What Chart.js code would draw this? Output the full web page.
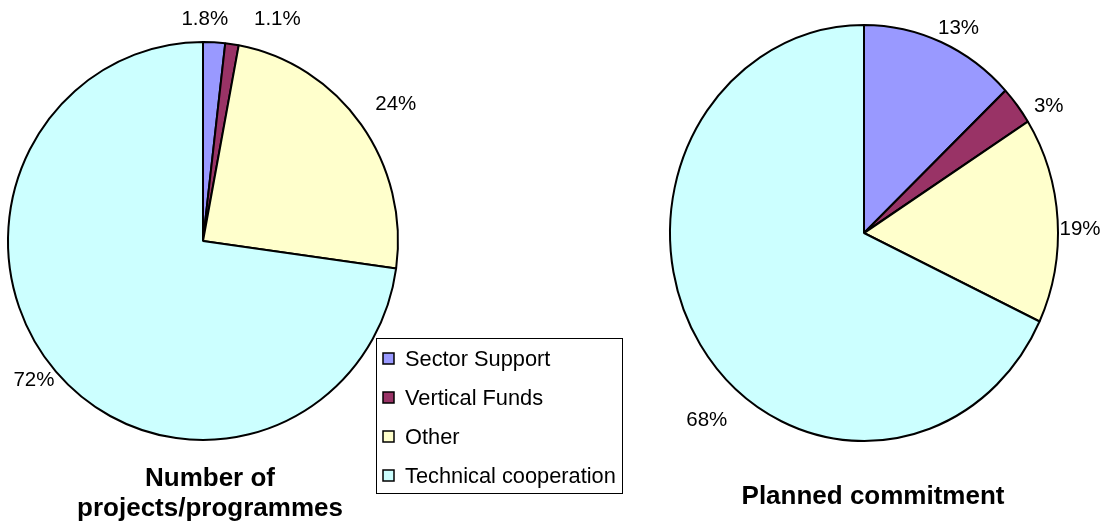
<!DOCTYPE html>
<html><head><meta charset="utf-8">
<script src="https://cdn.jsdelivr.net/npm/chart.js@4"></script>
<style>
html,body{margin:0;padding:0;background:#fff;}
#wrap{position:relative;width:1106px;height:522px;overflow:hidden;background:#fff;}
canvas{position:absolute;left:0;top:0;}
</style></head><body>
<div id="wrap"><canvas id="c1" width="1106" height="522"></canvas><canvas id="c2" width="1106" height="522"></canvas></div>
<script>
// ---- data ----
const categories = ['Sector Support', 'Vertical Funds', 'Other', 'Technical cooperation'];
const projectsValues = [1.8, 1.1, 24, 72];
const projectsLabels = ['1.8%', '1.1%', '24%', '72%'];
const commitmentValues = [13, 3, 16, 68];
const commitmentLabels = ['13%', '3%', '19%', '68%'];
const projectsTitle = ['Number of', 'projects/programmes'];
const commitmentTitle = ['Planned commitment'];
const sliceColors = ['#9999FF', '#993366', '#FFFFCC', '#CCFFFF'];

const FONT = '"Liberation Sans", Arial, Helvetica, sans-serif';

const ellipsePlugin = {
  id: 'ellipse',
  beforeDatasetsDraw(chart, args, opts) {
    const arc = chart.getDatasetMeta(0).data[0];
    const ctx = chart.ctx;
    ctx.save();
    ctx.translate(arc.x, arc.y);
    ctx.scale(1, opts.sy);
    ctx.translate(-arc.x, -arc.y);
  },
  afterDatasetsDraw(chart) { chart.ctx.restore(); }
};

const sliceLabelPlugin = {
  id: 'sliceLabels',
  afterDraw(chart, args, opts) {
    const ctx = chart.ctx;
    const meta = chart.getDatasetMeta(0);
    const sy = chart.options.plugins.ellipse.sy;
    ctx.save();
    ctx.font = '20.5px ' + FONT;
    ctx.fillStyle = '#000';
    ctx.textAlign = 'center';
    ctx.textBaseline = 'alphabetic';
    meta.data.forEach((arc, i) => {
      const mid = (arc.startAngle + arc.endAngle) / 2;
      const ux = Math.cos(mid), uy = Math.sin(mid);
      const rx = arc.outerRadius, ry = arc.outerRadius * sy;
      const t = opts.texts[i];
      const w = ctx.measureText(t).width, h = 15;
      const cx = arc.x + (rx + 6) * ux + (w / 2) * ux + opts.nudge[i][0];
      const cy = arc.y + (ry + 6) * uy + (h / 2) * uy + opts.nudge[i][1];
      ctx.fillText(t, cx, cy + 7.2);
    });
    ctx.restore();
  }
};

const titlePlugin = {
  id: 'bottomTitle',
  afterDraw(chart, args, opts) {
    const ctx = chart.ctx;
    ctx.save();
    ctx.font = 'bold 26px ' + FONT;
    ctx.fillStyle = '#000';
    ctx.textAlign = 'center';
    ctx.textBaseline = 'alphabetic';
    opts.lines.forEach((l, i) => ctx.fillText(l, opts.x, opts.baselines[i]));
    ctx.restore();
  }
};

const legendPlugin = {
  id: 'boxLegend',
  afterDraw(chart, args, opts) {
    const ctx = chart.ctx;
    const ds = chart.data.datasets[0];
    ctx.save();
    ctx.fillStyle = '#fff';
    ctx.fillRect(opts.x, opts.y, opts.w, opts.h);
    ctx.strokeStyle = '#000';
    ctx.lineWidth = 1;
    ctx.strokeRect(opts.x + 0.5, opts.y + 0.5, opts.w, opts.h);
    ctx.font = '21.8px ' + FONT;
    ctx.textBaseline = 'alphabetic';
    ctx.textAlign = 'left';
    chart.data.labels.forEach((lab, i) => {
      const cy = opts.firstRow + i * opts.rowGap;
      ctx.fillStyle = ds.backgroundColor[i];
      ctx.fillRect(opts.markerX, cy - 5.5, 11, 11);
      ctx.strokeStyle = '#000';
      ctx.lineWidth = 1.5;
      ctx.strokeRect(opts.markerX, cy - 5.5, 11, 11);
      ctx.fillStyle = '#000';
      ctx.fillText(lab, opts.textX, cy + 7.3);
    });
    ctx.restore();
  }
};

function pieConfig(values, padding, radius, sy, labelOpts, titleOpts, withLegend) {
  const plugins = [ellipsePlugin, sliceLabelPlugin, titlePlugin];
  if (withLegend) plugins.push(legendPlugin);
  return {
    type: 'pie',
    data: {
      labels: categories,
      datasets: [{
        data: values,
        backgroundColor: sliceColors,
        borderColor: '#000',
        borderWidth: 2,
        radius: radius,
        clip: false
      }]
    },
    options: {
      responsive: false,
      animation: false,
      events: [],
      layout: { padding: padding },
      plugins: {
        legend: { display: false },
        tooltip: { enabled: false },
        title: { display: false },
        ellipse: { sy: sy },
        sliceLabels: labelOpts,
        bottomTitle: titleOpts,
        boxLegend: withLegend ? { x: 376, y: 338, w: 246, h: 155, markerX: 383, textX: 405, firstRow: 358.5, rowGap: 39 } : {}
      }
    },
    plugins: plugins
  };
}

new Chart(document.getElementById('c1'), pieConfig(
  projectsValues,
  { left: 8, right: 708, top: 42, bottom: 82 },
  195, 199 / 195,
  { texts: projectsLabels, nudge: [[-11, -11], [41, -13], [13, -14], [-2, -2]] },
  { lines: projectsTitle, x: 210, baselines: [486, 516] },
  true
));

new Chart(document.getElementById('c2'), pieConfig(
  commitmentValues,
  { left: 670, right: 48, top: 25, bottom: 81 },
  194, 208 / 194,
  { texts: commitmentLabels, nudge: [[7, -3], [15, 8], [-4, 9], [29, 67]] },
  { lines: commitmentTitle, x: 873, baselines: [504] },
  false
));
</script>
</body></html>
